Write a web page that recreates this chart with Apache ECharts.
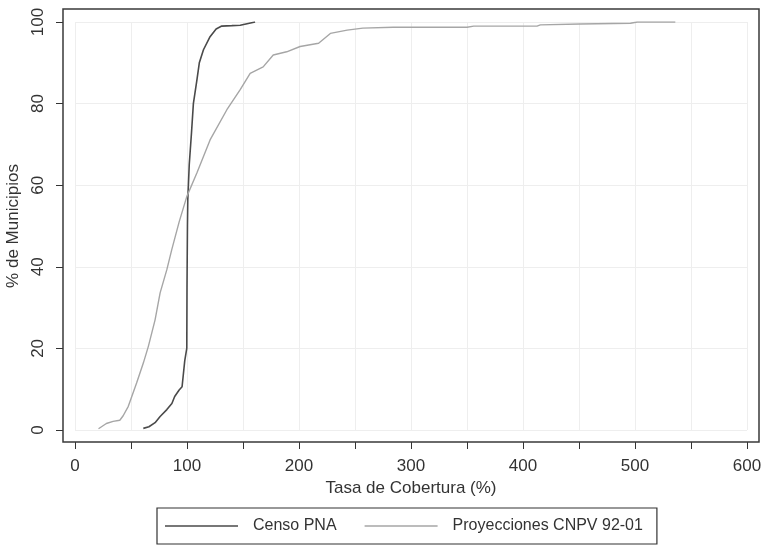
<!DOCTYPE html>
<html>
<head>
<meta charset="utf-8">
<script src="https://cdn.jsdelivr.net/npm/echarts@6/dist/echarts.min.js"></script>
<style>html,body{margin:0;padding:0;background:#fff}#c{width:766px;height:547px}</style>
</head>
<body>
<div id="c"></div>
<script>
// Data
var seriesNames = ['Censo PNA', 'Proyecciones CNPV 92-01'];
var censoX = [61, 66, 71.5, 76, 82, 86.5, 89, 93, 95.6, 96.5, 98, 99.8, 100, 100.4, 100.7, 102, 104, 105.7, 108.8, 111, 114.7, 120.6, 126, 131, 140, 147.5, 160.8];
var censoY = [0.4, 0.8, 1.8, 3.3, 5, 6.5, 8.2, 9.8, 10.6, 13, 17, 20, 35, 50, 56.4, 65, 72.8, 80, 85.7, 90, 93.2, 96.4, 98.3, 99, 99.1, 99.2, 100];
var proyX = [21, 28, 34, 40, 43, 47.6, 55, 61, 65.5, 71.5, 76, 82, 86.4, 93, 99.8, 108.8, 120.6, 135.6, 147.5, 156.4, 168, 177, 189, 201, 217.5, 228, 243, 257, 284, 350, 356, 412.5, 415.5, 451, 496, 502, 536];
var proyY = [0.3, 1.6, 2.1, 2.4, 3.5, 5.8, 11.5, 16.4, 20.5, 27, 33.6, 39.3, 44.2, 51, 57.2, 63, 71.1, 78.5, 83.4, 87.4, 89, 91.9, 92.7, 94, 94.8, 97.2, 98, 98.5, 98.7, 98.7, 99, 99, 99.3, 99.5, 99.7, 100, 100];
var xTicks = [0, 100, 200, 300, 400, 500, 600];
var yTicks = [0, 20, 40, 60, 80, 100];
var xTitle = 'Tasa de Cobertura (%)';
var yTitle = '% de Municipios';

function pairs(xs, ys) { return xs.map(function (x, i) { return [x, ys[i]]; }); }

var chart = echarts.init(document.getElementById('c'), null, {renderer: 'canvas'});
var font = 'Liberation Sans, Arial, sans-serif';
chart.setOption({
  animation: false,
  backgroundColor: '#fff',
  textStyle: {fontFamily: font},
  grid: {left: 75, right: 19, top: 22, bottom: 117, containLabel: false, outerBoundsMode: 'none'},
  graphic: [{
    type: 'rect', shape: {x: 63, y: 9, width: 696, height: 433},
    style: {fill: 'none', stroke: '#3a3a3a', lineWidth: 1.5}, z: 10
  }],
  xAxis: {
    type: 'value', min: 0, max: 600, interval: 50, offset: 12,
    axisLine: {show: false, onZero: false},
    axisTick: {show: true, inside: false, length: 7, lineStyle: {color: '#333'}},
    splitLine: {show: true, lineStyle: {color: '#eeeeee', width: 1}},
    axisLabel: {
      margin: 16, color: '#333', fontSize: 17, fontFamily: font,
      formatter: function (v) { return xTicks.indexOf(v) >= 0 ? String(v) : ''; }
    },
    name: xTitle, nameLocation: 'middle', nameGap: 38,
    nameTextStyle: {fontSize: 17, color: '#333', fontFamily: font}
  },
  yAxis: {
    type: 'value', min: 0, max: 100, interval: 20, offset: 12,
    axisLine: {show: false, onZero: false},
    axisTick: {show: true, inside: false, length: 7, lineStyle: {color: '#333'}},
    splitLine: {show: true, lineStyle: {color: '#eeeeee', width: 1}},
    axisLabel: {
      margin: 16, rotate: 90, color: '#333', fontSize: 17, fontFamily: font,
      formatter: function (v) { return yTicks.indexOf(v) >= 0 ? String(v) : ''; }
    },
    name: yTitle, nameLocation: 'middle', nameGap: 40,
    nameTextStyle: {fontSize: 17, color: '#333', fontFamily: font}
  },
  legend: {
    left: 157, top: 508,
    data: seriesNames,
    icon: 'rect', itemWidth: 73, itemHeight: 1.5, itemGap: 28,
    borderColor: '#333', borderWidth: 1.2, borderRadius: 0,
    padding: [10, 14, 10, 8],
    textStyle: {fontSize: 16, color: '#333', fontFamily: font, padding: [0, 0, 0, 10]}
  },
  series: [
    {
      name: seriesNames[0], type: 'line', data: pairs(censoX, censoY),
      showSymbol: false, symbol: 'none',
      lineStyle: {color: '#4a4a4a', width: 1.6}, itemStyle: {color: '#4a4a4a'}
    },
    {
      name: seriesNames[1], type: 'line', data: pairs(proyX, proyY),
      showSymbol: false, symbol: 'none',
      lineStyle: {color: '#a6a6a6', width: 1.4}, itemStyle: {color: '#a6a6a6'}
    }
  ]
});
</script>
</body>
</html>
